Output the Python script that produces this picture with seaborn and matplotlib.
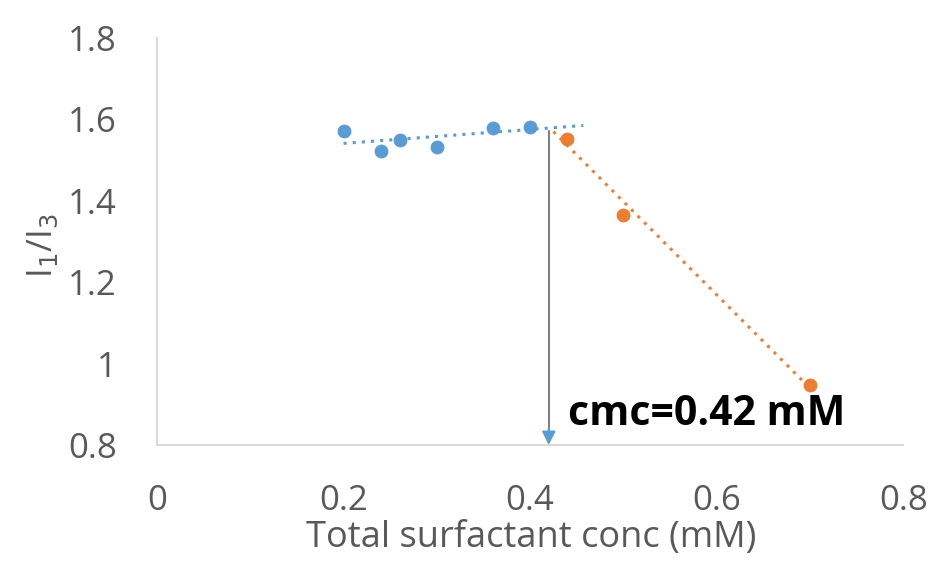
import matplotlib
matplotlib.use("Agg")
import matplotlib.pyplot as plt
import seaborn as sns

sns.set_style("white")
plt.rcParams['font.family'] = ['Open Sans', 'DejaVu Sans']

# data
pre_x = [0.20, 0.24, 0.26, 0.30, 0.36, 0.40]
pre_y = [1.571, 1.522, 1.549, 1.531, 1.580, 1.582]
post_x = [0.44, 0.50, 0.70]
post_y = [1.551, 1.366, 0.947]
pre_trend_x = [0.20, 0.457]
pre_trend_y = [1.541, 1.585]
post_trend_x = [0.425, 0.70]
post_trend_y = [1.570, 0.940]
cmc = 0.42
cmc_top = 1.572
x_ticks = [0, 0.2, 0.4, 0.6, 0.8]
x_tick_labels = ["0", "0.2", "0.4", "0.6", "0.8"]
y_ticks = [0.8, 1.0, 1.2, 1.4, 1.6, 1.8]
y_tick_labels = ["0.8", "1", "1.2", "1.4", "1.6", "1.8"]

blue = "#5B9BD5"
orange = "#ED7D31"
grey_txt = "#595959"

fig = plt.figure(figsize=(9.37, 5.62), dpi=100)
ax = fig.add_axes([0.1676, 0.2082, 0.7963, 0.7242])

sns.lineplot(x=pre_trend_x, y=pre_trend_y, ax=ax, color=blue, lw=2.2,
             linestyle=(0, (1, 2)))
sns.lineplot(x=post_trend_x, y=post_trend_y, ax=ax, color=orange, lw=2.2,
             linestyle=(0, (1, 2)))
sns.scatterplot(x=pre_x, y=pre_y, ax=ax, color=blue, s=85, edgecolor=blue, zorder=3)
sns.scatterplot(x=post_x, y=post_y, ax=ax, color=orange, s=85, edgecolor=orange, zorder=3)

# grey drop line with blue arrow head
ax.plot([cmc, cmc], [0.83, cmc_top], color="#808080", lw=1.5, zorder=2)
ax.annotate("", xy=(cmc, 0.80), xytext=(cmc, 0.84),
            arrowprops=dict(arrowstyle="-|>,head_length=0.8,head_width=0.4",
                            lw=1.5, shrinkA=0, shrinkB=0,
                            fc=blue, ec=blue))

ax.text(0.441, 0.874, "cmc=0.42 mM", fontsize=29.5, fontweight="bold",
        color="black", va="center", ha="left")

ax.set_xlim(0, 0.8)
ax.set_ylim(0.8, 1.8)
ax.set_xticks(x_ticks)
ax.set_xticklabels(x_tick_labels)
ax.set_yticks(y_ticks)
ax.set_yticklabels(y_tick_labels)
ax.tick_params(axis="both", labelsize=25, colors=grey_txt, length=0)
ax.tick_params(axis="x", pad=28)
ax.tick_params(axis="y", pad=29)

for s in ["top", "right"]:
    ax.spines[s].set_visible(False)
for s in ["left", "bottom"]:
    ax.spines[s].set_color("#d9d9d9")
    ax.spines[s].set_linewidth(1.5)

ax.set_xlabel("Total surfactant conc (mM)", fontsize=26, color=grey_txt)
ax.xaxis.set_label_coords(0.502, -0.184)
ax.set_ylabel("I$_1$/I$_3$", fontsize=25, color=grey_txt)
ax.yaxis.set_label_coords(-0.13, 0.49)

fig.savefig("out.png", dpi=100)
